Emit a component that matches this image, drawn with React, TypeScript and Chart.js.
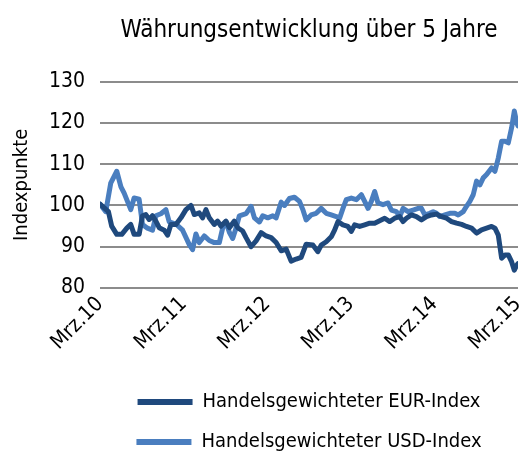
import React, { useEffect, useRef } from "react";
import { Chart, registerables } from "chart.js";

Chart.register(...registerables);

const TITLE = "Währungsentwicklung über 5 Jahre";
const Y_TITLE = "Indexpunkte";
const X_TICK_LABELS = ["Mrz.10", "Mrz.11", "Mrz.12", "Mrz.13", "Mrz.14", "Mrz.15"];
const SERIES_NAMES = ["Handelsgewichteter EUR-Index", "Handelsgewichteter USD-Index"];

// months since Mrz.10
const eurMonths = [0, 1.2, 1.67, 2.4, 3.12, 3.84, 4.41, 4.89, 5.61, 6.09, 6.57, 7.05, 7.53, 8.01, 8.49, 9.21, 9.69, 10.17, 10.89, 11.61, 12.33, 13.05, 13.53, 14.24, 14.72, 15.2, 15.68, 16.4, 16.88, 17.36, 18.08, 18.56, 19.28, 19.76, 20.48, 20.96, 21.68, 22.4, 23.12, 23.84, 24.56, 25.28, 26, 26.72, 27.43, 28.15, 28.87, 29.59, 30.55, 31.27, 31.75, 32.47, 33.19, 33.67, 34.15, 34.87, 35.59, 36.07, 36.55, 37.27, 37.99, 38.71, 39.42, 40.14, 40.86, 41.58, 42.3, 43.02, 43.5, 43.98, 44.7, 45.42, 46.14, 46.86, 47.58, 48.3, 49.02, 49.74, 50.46, 51.18, 51.9, 52.61, 53.33, 54.05, 54.77, 55.49, 56.21, 56.69, 57.17, 57.65, 58.13, 58.61, 59.09, 59.47, 59.81, 60];
const eurValues = [100.3, 98.5, 95, 93, 93, 94.5, 95.4, 93, 93, 97.5, 97.8, 96.6, 97.5, 96.2, 94.6, 94, 92.8, 95.4, 95.4, 97, 99, 100, 97.8, 98.2, 97, 99, 97, 95.4, 96.2, 95, 96.2, 94.6, 96.2, 94.6, 93.8, 92.2, 90, 91.4, 93.4, 92.6, 92.2, 91, 89, 89.4, 86.5, 87, 87.4, 90.6, 90.4, 88.8, 90.4, 91.2, 92.4, 94, 96.1, 95.3, 94.9, 93.7, 95.3, 94.9, 95.3, 95.7, 95.7, 96.3, 96.9, 96.1, 96.9, 97.3, 96.1, 96.9, 97.7, 97.3, 96.5, 97.3, 97.7, 97.9, 97.3, 96.9, 96.1, 95.7, 95.4, 94.9, 94.5, 93.3, 94.1, 94.5, 94.9, 94.5, 92.8, 87.2, 88, 88, 86.3, 84.3, 85.5, 85.9];

const usdMonths = [0, 0.82, 1.53, 2.4, 3.0, 3.46, 4.41, 4.89, 5.61, 6.09, 6.81, 7.53, 8.01, 8.73, 9.45, 9.93, 10.89, 11.85, 12.81, 13.29, 13.76, 14.24, 14.96, 15.68, 16.4, 17.12, 17.6, 18.08, 18.56, 19.04, 19.52, 20.0, 20.96, 21.68, 22.16, 22.88, 23.36, 24.08, 24.8, 25.28, 26.0, 26.48, 27.19, 27.91, 28.63, 29.11, 29.59, 30.31, 31.03, 31.75, 32.47, 33.19, 33.91, 34.39, 34.87, 35.35, 36.07, 36.79, 37.51, 37.99, 38.47, 38.95, 39.42, 39.9, 40.62, 41.34, 41.82, 42.54, 43.02, 43.5, 44.22, 44.94, 45.66, 46.14, 46.62, 47.34, 47.82, 48.3, 48.78, 49.5, 50.22, 50.94, 51.42, 52.14, 52.61, 53.09, 53.57, 54.05, 54.53, 55.01, 55.49, 56.21, 56.69, 57.17, 57.65, 58.13, 58.61, 59.09, 59.47, 59.81, 60];
const usdValues = [100.3, 98.5, 105.4, 108.3, 104.5, 103, 99, 101.8, 101.5, 95.4, 94.5, 94, 97.5, 98, 99, 96, 95.5, 94, 90.5, 89.3, 93.1, 91, 92.6, 91.5, 91, 91, 94.5, 96, 93.5, 92, 94.5, 97.5, 98, 99.8, 97, 96, 97.5, 97, 97.5, 97, 100.8, 100, 101.7, 102, 101, 99, 96.5, 97.7, 98.1, 99.3, 98.1, 97.7, 97.3, 96.9, 99.3, 101.4, 101.8, 101.4, 102.6, 101, 99.3, 101, 103.4, 100.6, 100.2, 100.6, 98.9, 98.5, 97.3, 99.3, 98.5, 98.9, 99.3, 99.3, 97.7, 98.1, 98.5, 98.1, 97.3, 97.7, 98.1, 98.1, 97.7, 98.5, 99.8, 101, 102.6, 105.9, 105, 106.7, 107.5, 109.1, 108.3, 111.5, 115.6, 115.6, 115.2, 118.9, 122.9, 120.1, 119.3];

const COLORS = ["#1f497d", "#4a7ebf"];
const FONT = "'DejaVu Sans Condensed', 'DejaVu Sans', sans-serif";

export default function App() {
  const ref = useRef<HTMLCanvasElement | null>(null);
  useEffect(() => {
    if (!ref.current) return;
    const toPts = (xs: number[], ys: number[]) => xs.map((x, i) => ({ x, y: ys[i] }));
    const chart = new Chart(ref.current, {
      type: "line",
      data: {
        datasets: [
          { label: SERIES_NAMES[0], data: toPts(eurMonths, eurValues), borderColor: COLORS[0], backgroundColor: COLORS[0], borderWidth: 5, pointRadius: 0, tension: 0, borderJoinStyle: "round", borderCapStyle: "round" },
          { label: SERIES_NAMES[1], data: toPts(usdMonths, usdValues), borderColor: COLORS[1], backgroundColor: COLORS[1], borderWidth: 5, pointRadius: 0, tension: 0, borderJoinStyle: "round", borderCapStyle: "round" },
        ],
      },
      options: {
        animation: false,
        responsive: false,
        layout: { padding: { left: 10, right: 4, top: 16, bottom: 0 } },
        plugins: {
          title: { display: true, text: TITLE, fullSize: false, color: "#000", font: { family: FONT, size: 24, weight: "normal" }, padding: { top: 0, bottom: 37 } },
          legend: {
            position: "bottom",
            fullSize: false,
            labels: {
              color: "#000",
              font: { family: FONT, size: 20 },
              boxWidth: 55,
              boxHeight: 0,
              padding: 20,
              generateLabels: (c: any) => c.data.datasets.map((d: any, i: number) => ({
                text: d.label, fillStyle: COLORS[i], strokeStyle: COLORS[i], lineWidth: 6, lineCap: "round", datasetIndex: i, hidden: false,
              })),
            },
          },
          tooltip: { enabled: false },
        },
        scales: {
          x: {
            type: "linear",
            min: 0,
            max: 60,
            grid: { display: false, drawTicks: false },
            border: { display: false },
            afterFit: (s: any) => { s.paddingRight = 0; s.height += 13; },
            ticks: {
              stepSize: 12,
              minRotation: 45,
              maxRotation: 45,
              padding: 4,
              color: "#000",
              font: { family: FONT, size: 21 },
              callback: (v: any) => X_TICK_LABELS[Math.round(Number(v) / 12)] ?? "",
            },
          },
          y: {
            min: 80,
            max: 130,
            grid: { color: "#8c8c8c", lineWidth: 2, drawTicks: false },
            border: { display: false },
            ticks: { stepSize: 10, color: "#000", font: { family: FONT, size: 21 }, padding: 15 },
            title: { display: true, text: Y_TITLE, color: "#000", font: { family: FONT, size: 20 }, padding: 0 },
          },
        },
      },
    } as any);
    return () => chart.destroy();
  }, []);
  return (
    <div style={{ position: "fixed", left: 0, top: 0, width: 522, height: 452, overflow: "hidden", background: "#fff" }}>
      <canvas ref={ref} width={522} height={462} style={{ display: "block" }} />
    </div>
  );
}
